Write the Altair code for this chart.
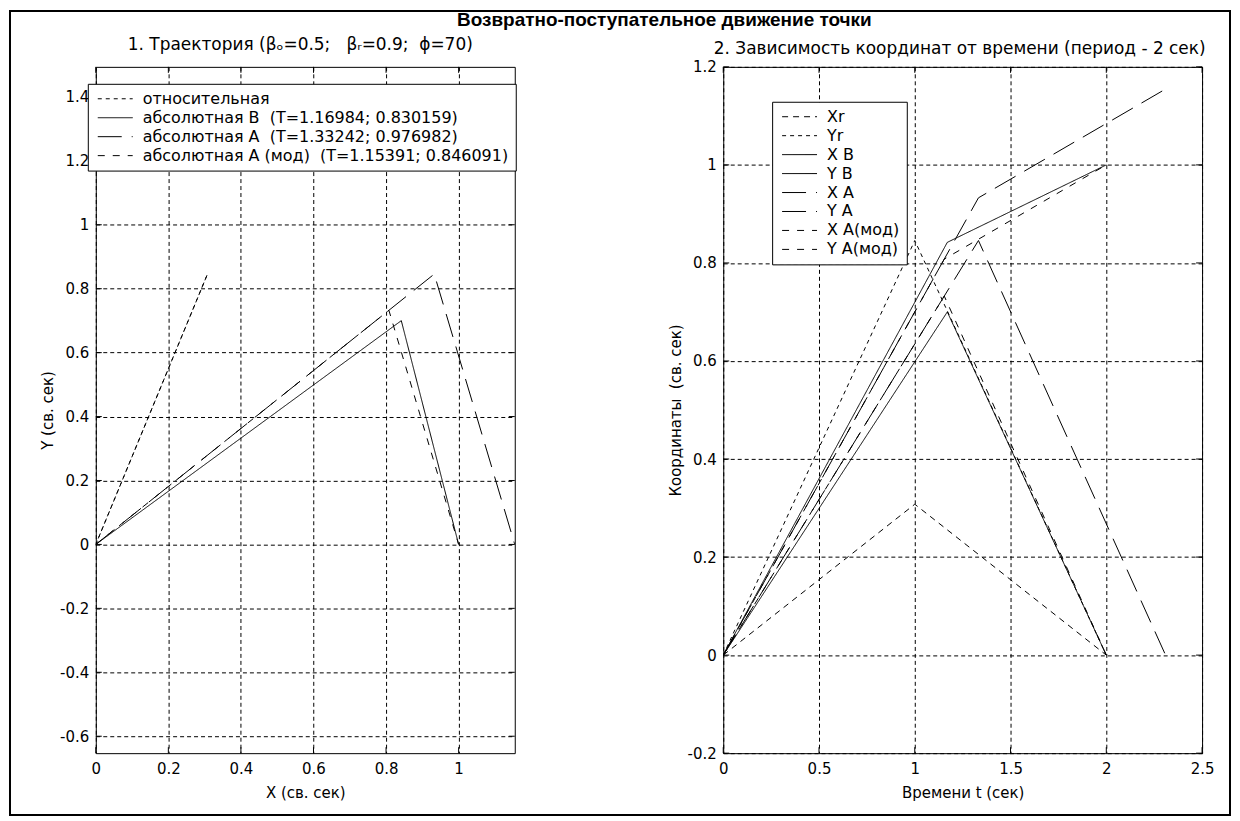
import altair as alt
import pandas as pd

FONT = "DejaVu Sans"
TFONT = "Liberation Sans"

# ---------------- text ----------------
main_title = "Возвратно-поступательное движение точки"
left_title = "1. Траектория (β\u2092=0.5;\u00a0\u00a0 β\u1d63=0.9;\u00a0 ϕ=70)"
right_title = "2. Зависимость координат от времени (период - 2 сек)"
left_xlabel = "X (св. сек)"
left_ylabel = "Y (св. сек)"
right_xlabel = "Времени t (сек)"
right_ylabel = "Координаты\u00a0 (св. сек)"

# ---------------- left panel: trajectories ----------------
left_names = [
    "относительная",
    "абсолютная B\u00a0 (T=1.16984; 0.830159)",
    "абсолютная A\u00a0 (T=1.33242; 0.976982)",
    "абсолютная A (мод)\u00a0 (T=1.15391; 0.846091)",
]
left_dashes = [[4, 4], [1, 0], [24, 10], [7, 8]]

rel_x = [0.0, 0.307818, 0.0]
rel_y = [0.0, 0.845723, 0.0]
absB_x = [0.0, 0.842, 1.0]
absB_y = [0.0, 0.700, 0.0]
absA_x = [0.0, 0.932789, 1.154701]
absA_y = [0.0, 0.845723, 0.0]
absAm_x = [0.0, 0.807818, 1.0]
absAm_y = [0.0, 0.732416, 0.0]

left_xticks = [0, 0.2, 0.4, 0.6, 0.8, 1]
left_yticks = [-0.6, -0.4, -0.2, 0, 0.2, 0.4, 0.6, 0.8, 1, 1.2, 1.4]
left_xdomain = [0, 1.154701]
left_ydomain = [-0.653, 1.494]

# ---------------- right panel: coordinates vs time ----------------
right_names = ["Xr", "Yr", "X B", "Y B", "X A", "Y A", "X A(мод)", "Y A(мод)"]
right_dashes = [[6, 5], [4, 4], [1, 0], [1, 0], [24, 10], [24, 10], [7, 8], [7, 8]]

t_r = [0.0, 1.0, 2.0]
xr = [0.0, 0.307818, 0.0]
yr = [0.0, 0.845723, 0.0]
t_B = [0.0, 1.16984, 2.0]
xB = [0.0, 0.842, 1.0]
yB = [0.0, 0.700, 0.0]
t_A = [0.0, 1.33242, 2.309401]
xA = [0.0, 0.932789, 1.154701]
yA = [0.0, 0.845723, 0.0]
t_Am = [0.0, 1.15391, 2.0]
xAm = [0.0, 0.807818, 1.0]
yAm = [0.0, 0.732416, 0.0]

right_xticks = [0, 0.5, 1, 1.5, 2, 2.5]
right_yticks = [-0.2, 0, 0.2, 0.4, 0.6, 0.8, 1, 1.2]
right_xdomain = [0, 2.5]
right_ydomain = [-0.2, 1.2]

# ---------------- tables ----------------
rows = []
for name, xs, ys in zip(left_names, [rel_x, absB_x, absA_x, absAm_x],
                        [rel_y, absB_y, absA_y, absAm_y]):
    for i, (a, b) in enumerate(zip(xs, ys)):
        rows.append({"series": name, "x": a, "y": b, "ord": i})
df_left = pd.DataFrame(rows)

rows = []
for name, ts, vs in zip(right_names,
                        [t_r, t_r, t_B, t_B, t_A, t_A, t_Am, t_Am],
                        [xr, yr, xB, yB, xA, yA, xAm, yAm]):
    for i, (a, b) in enumerate(zip(ts, vs)):
        rows.append({"coord": name, "t": a, "v": b, "ord": i})
df_right = pd.DataFrame(rows)

W1, W2, H = 420, 480, 688
TL = 6  # inner tick length


def x_axis(vals, title):
    return alt.Axis(values=vals, title=title, grid=True, gridDash=[4, 3],
                    gridColor="black", gridOpacity=1, gridWidth=1,
                    domain=False, ticks=False, labelPadding=8,
                    labelFont=FONT, labelFontSize=15, labelColor="black",
                    labelExpr="'' + datum.value", labelFlush=False,
                    labelOverlap=False,
                    titleFont=FONT, titleFontSize=15, titleFontWeight="normal",
                    titleColor="black", titleY=39, titleBaseline="middle")


def y_axis(vals, title, tx):
    return alt.Axis(values=vals, title=title, grid=True, gridDash=[4, 3],
                    gridColor="black", gridOpacity=1, gridWidth=1,
                    domain=False, ticks=False, labelPadding=7,
                    labelFont=FONT, labelFontSize=15, labelColor="black",
                    labelExpr="'' + datum.value", labelFlush=False,
                    labelOverlap=False,
                    titleFont=FONT, titleFontSize=15, titleFontWeight="normal",
                    titleColor="black", titleX=tx, titleY=H / 2,
                    titleAngle=-90, titleBaseline="middle", titleAlign="center")


def legend(lx, ly):
    return alt.Legend(orient="none", legendX=lx, legendY=ly, title=None,
                      direction="vertical", symbolType="M-1,0H6",
                      symbolSize=100, symbolStrokeWidth=1,
                      symbolStrokeColor="black", labelFont=FONT,
                      labelFontSize=16, labelColor="black", labelOffset=32,
                      labelLimit=800, fillColor="white", strokeColor="black",
                      padding=7, rowPadding=3)


def inner_ticks(xvals, yvals, xscale, yscale, xax, yax, w):
    dx = pd.DataFrame({"tv": xvals})
    dy = pd.DataFrame({"tv": yvals})
    r = dict(color="black", strokeWidth=1)
    xb = alt.Chart(dx).mark_rule(**r).encode(
        x=alt.X("tv:Q", scale=xscale, axis=xax), y=alt.value(H), y2=alt.value(H - TL))
    xt = alt.Chart(dx).mark_rule(**r).encode(
        x=alt.X("tv:Q", scale=xscale, axis=xax), y=alt.value(0), y2=alt.value(TL))
    yl = alt.Chart(dy).mark_rule(**r).encode(
        y=alt.Y("tv:Q", scale=yscale, axis=yax), x=alt.value(0), x2=alt.value(TL))
    yrr = alt.Chart(dy).mark_rule(**r).encode(
        y=alt.Y("tv:Q", scale=yscale, axis=yax), x=alt.value(w - TL), x2=alt.value(w))
    return [xb, xt, yl, yrr]


def label_text(txt, px, py, size, weight, font):
    return alt.Chart(pd.DataFrame({"label": [txt]})).mark_text(
        font=font, fontSize=size, fontWeight=weight, color="black",
        align="center", baseline="middle").encode(
        text="label:N", x=alt.value(px), y=alt.value(py))


# ---------------- left chart ----------------
lxs = alt.Scale(domain=left_xdomain, nice=False, zero=False)
lys = alt.Scale(domain=left_ydomain, nice=False, zero=False)
lxa = x_axis(left_xticks, left_xlabel)
lya = y_axis(left_yticks, left_ylabel, -48)

frame = alt.Chart(pd.DataFrame({"f": [0]})).mark_rect(
    filled=False, stroke="black", strokeWidth=2).encode(
    x=alt.value(-86), x2=alt.value(1137), y=alt.value(-56), y2=alt.value(750))

left_lines = alt.Chart(df_left).mark_line(color="black", strokeWidth=1, clip=True).encode(
    x=alt.X("x:Q", scale=lxs, axis=lxa),
    y=alt.Y("y:Q", scale=lys, axis=lya),
    strokeDash=alt.StrokeDash("series:N",
                              scale=alt.Scale(domain=left_names, range=left_dashes),
                              legend=legend(-8, 17)),
    order=alt.Order("ord:Q"),
)

left = alt.layer(
    frame, left_lines,
    *inner_ticks(left_xticks, left_yticks, lxs, lys, lxa, lya, W1),
    label_text(left_title, 205, -22, 17, "normal", FONT),
).properties(width=W1, height=H)

# ---------------- right chart ----------------
rxs = alt.Scale(domain=right_xdomain, nice=False, zero=False)
rys = alt.Scale(domain=right_ydomain, nice=False, zero=False)
rxa = x_axis(right_xticks, right_xlabel)
rya = y_axis(right_yticks, right_ylabel, -48)

right_lines = alt.Chart(df_right).mark_line(color="black", strokeWidth=1, clip=True).encode(
    x=alt.X("t:Q", scale=rxs, axis=rxa),
    y=alt.Y("v:Q", scale=rys, axis=rya),
    strokeDash=alt.StrokeDash("coord:N",
                              scale=alt.Scale(domain=right_names, range=right_dashes),
                              legend=legend(49, 35)),
    order=alt.Order("ord:Q"),
)

right = alt.layer(
    right_lines,
    *inner_ticks(right_xticks, right_yticks, rxs, rys, rxa, rya, W2),
    label_text(main_title, -59, -47, 19, "bold", TFONT),
    label_text(right_title, 237, -18, 17, "normal", FONT),
).properties(width=W2, height=H)

chart = alt.hconcat(left, right, spacing=209, bounds="flush").resolve_scale(
    strokeDash="independent").resolve_legend(strokeDash="independent").configure_view(
    stroke="black", strokeWidth=1).properties(padding=0, background="white")

chart.save("out.html", embed_options={"renderer": "svg", "actions": False})
